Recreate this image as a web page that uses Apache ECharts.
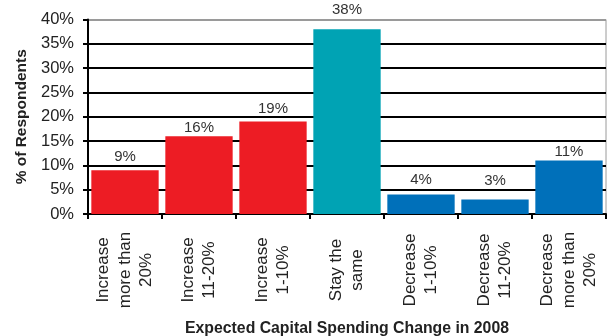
<!DOCTYPE html>
<html>
<head>
<meta charset="utf-8">
<script src="https://cdn.jsdelivr.net/npm/echarts@6/dist/echarts.min.js"></script>
<style>
  html, body { margin: 0; padding: 0; background: #fff; }
  #chart { width: 610px; height: 336px; }
</style>
</head>
<body>
<div id="chart"></div>
<script>
// Survey responses: expected change in capital spending
const categories = [
  'Increase\nmore than\n20%',
  'Increase\n11-20%',
  'Increase\n1-10%',
  'Stay the\nsame',
  'Decrease\n1-10%',
  'Decrease\n11-20%',
  'Decrease\nmore than\n20%'
];
const respondentShare = [9, 16, 19, 38, 4, 3, 11];
const barColors = ['#ED1C24', '#ED1C24', '#ED1C24', '#00A3B4', '#0070BA', '#0070BA', '#0070BA'];
const labelGaps = [6, 1, 5, 12, 7, 11, 1];
const yTicks = [0, 5, 10, 15, 20, 25, 30, 35, 40];

const font = 'Arial, "Liberation Sans", sans-serif';
// black gridlines, top one is the light frame edge
const gridLineColors = yTicks.map((t, i) => i === yTicks.length - 1 ? '#9a9a9a' : '#000');

const chart = echarts.init(document.getElementById('chart'), null, { renderer: 'canvas' });
chart.setOption({
  animation: false,
  backgroundColor: '#fff',
  grid: {
    left: 88, right: 4, top: 19.5, bottom: 122,
    containLabel: false,
    outerBoundsMode: 'none',
    show: true, borderColor: '#9a9a9a', borderWidth: 1, backgroundColor: 'transparent'
  },
  xAxis: {
    type: 'category',
    data: categories,
    name: 'Expected Capital Spending Change in 2008',
    nameLocation: 'middle',
    nameGap: 107,
    nameTextStyle: { fontFamily: font, fontSize: 15.8, fontWeight: 'bold', color: '#222' },
    axisLine: { lineStyle: { color: '#000', width: 2 } },
    axisTick: { show: true, length: 5, lineStyle: { color: '#000', width: 2 } },
    axisLabel: {
      rotate: 90,
      align: 'center',
      verticalAlign: 'middle',
      margin: 56,
      fontFamily: font,
      fontSize: 17,
      lineHeight: 21.5,
      color: '#222',
      interval: 0
    }
  },
  yAxis: {
    type: 'value',
    min: yTicks[0],
    max: yTicks[yTicks.length - 1],
    interval: 5,
    name: '% of Respondents',
    nameLocation: 'middle',
    nameGap: 57,
    nameTextStyle: { fontFamily: font, fontSize: 15.5, fontWeight: 'bold', color: '#222' },
    axisLine: { show: true, lineStyle: { color: '#000', width: 2 } },
    axisTick: { show: true, length: 5, lineStyle: { color: '#000', width: 2 } },
    axisLabel: {
      formatter: v => v + '%',
      fontFamily: font,
      fontSize: 16.5,
      color: '#222',
      margin: 14
    },
    splitLine: { show: true, lineStyle: { color: gridLineColors, width: 2 } }
  },
  series: [{
    type: 'bar',
    data: respondentShare.map((v, i) => ({
      value: v,
      itemStyle: { color: barColors[i] },
      label: { distance: labelGaps[i] }
    })),
    barCategoryGap: '9%',
    label: {
      show: true,
      position: 'top',
      formatter: p => p.value + '%',
      fontFamily: font,
      fontSize: 15,
      color: '#333'
    }
  }]
});
</script>
</body>
</html>
